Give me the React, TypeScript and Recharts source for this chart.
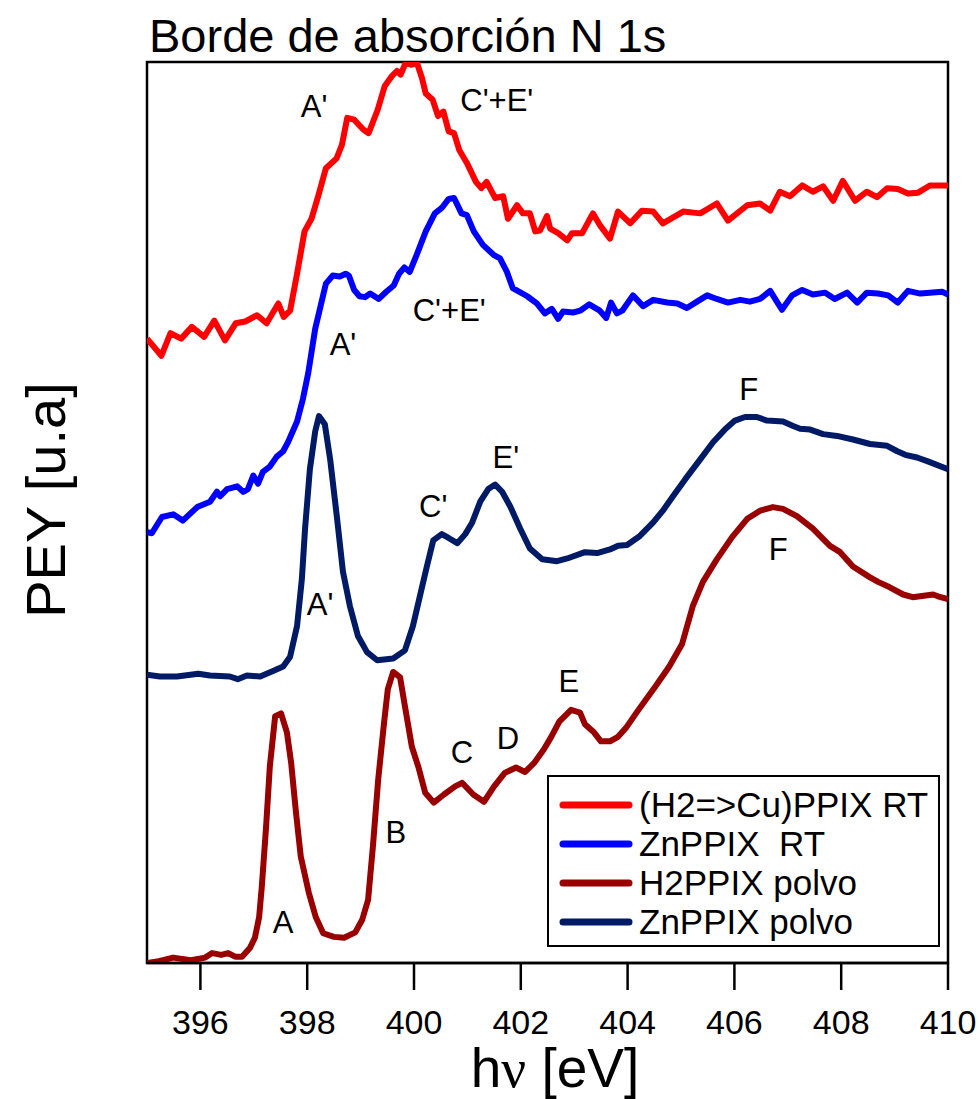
import { LineChart, Line, XAxis, YAxis, ReferenceArea, ReferenceDot } from 'recharts';

const FONT = '"Liberation Sans", Arial, Helvetica, sans-serif';

// photon energy ticks [eV]
const energyTicks = [396, 398, 400, 402, 404, 406, 408, 410];

// (H2=>Cu)PPIX RT
const cuRtEnergy = [
  395.0, 395.27, 395.44, 395.64, 395.84, 396.07, 396.26, 396.46, 396.66, 396.84, 397.06, 397.24,
  397.46, 397.56, 397.68, 397.81, 397.95, 398.08, 398.21, 398.35, 398.55, 398.65, 398.75, 398.88,
  399.05, 399.15, 399.32, 399.45, 399.58, 399.68, 399.75, 399.85, 399.95, 400.05, 400.15, 400.22,
  400.35, 400.45, 400.55, 400.65, 400.75, 400.85, 400.99, 401.16, 401.26, 401.36, 401.52, 401.67,
  401.76, 401.93, 402.04, 402.17, 402.27, 402.36, 402.49, 402.55, 402.7, 402.87, 402.96, 403.15,
  403.35, 403.48, 403.67, 403.82, 404.05, 404.27, 404.48, 404.66, 405.04, 405.36, 405.67, 405.88,
  406.24, 406.48, 406.67, 406.85, 407.04, 407.27, 407.47, 407.66, 407.85, 408.03, 408.26, 408.48,
  408.67, 408.86, 409.06, 409.25, 409.44, 409.66, 410.0,
];
const cuRtPey = [
  69.3, 67.4, 69.9, 69.3, 70.6, 69.5, 71.3, 69.1, 71.0, 71.2, 71.9, 71.0,
  73.2, 71.7, 72.4, 76.5, 81.2, 82.6, 85.2, 88.2, 89.3, 90.8, 93.8, 93.6,
  92.5, 92.1, 94.7, 97.3, 98.4, 99.0, 98.6, 100.0, 99.7, 100.0, 98.2, 96.5,
  95.8, 94.0, 94.5, 92.3, 92.1, 90.2, 88.8, 86.7, 86.0, 86.7, 84.9, 85.1,
  82.6, 84.1, 83.2, 83.2, 81.2, 81.3, 82.9, 81.5, 81.0, 80.2, 81.0, 81.0,
  83.2, 81.9, 80.4, 83.4, 82.1, 83.5, 83.4, 82.1, 83.4, 83.2, 84.3, 82.4,
  84.1, 84.3, 83.5, 85.6, 85.1, 86.3, 85.6, 86.2, 84.6, 86.8, 84.6, 85.6,
  85.0, 86.0, 85.9, 85.4, 85.5, 86.3, 86.3,
];

// ZnPPIX RT
const znRtEnergy = [
  395.0, 395.09, 395.28, 395.49, 395.67, 395.94, 396.18, 396.31, 396.37, 396.5, 396.69, 396.8,
  396.89, 396.99, 397.08, 397.17, 397.3, 397.43, 397.55, 397.64, 397.81, 397.92, 398.02, 398.15,
  398.35, 398.48, 398.61, 398.72, 398.78, 398.88, 398.98, 399.08, 399.18, 399.34, 399.48, 399.62,
  399.72, 399.82, 399.92, 400.05, 400.22, 400.39, 400.52, 400.65, 400.75, 400.89, 400.99, 401.12,
  401.29, 401.49, 401.61, 401.74, 401.85, 402.12, 402.3, 402.45, 402.58, 402.7, 402.79, 402.98,
  403.11, 403.28, 403.48, 403.6, 403.69, 403.8, 403.9, 404.1, 404.29, 404.48, 404.74, 404.93,
  405.11, 405.3, 405.49, 405.67, 405.88, 406.11, 406.29, 406.48, 406.67, 406.89, 407.08, 407.27,
  407.47, 407.7, 407.88, 408.11, 408.3, 408.48, 408.69, 408.88, 409.06, 409.25, 409.48, 409.66,
  409.89, 410.0,
];
const znRtPey = [
  47.8, 47.7, 49.5, 49.8, 49.1, 50.6, 51.2, 52.3, 51.8, 52.6, 52.9, 52.3,
  52.6, 54.1, 53.2, 54.5, 55.1, 56.2, 56.8, 57.8, 60.1, 62.6, 65.5, 70.4,
  75.4, 76.3, 76.2, 76.5, 76.3, 74.7, 74.0, 73.9, 74.3, 73.7, 74.5, 75.2,
  76.5, 77.2, 76.7, 78.6, 81.2, 83.2, 83.8, 84.8, 84.9, 83.2, 83.0, 81.2,
  79.7, 78.6, 78.2, 76.7, 74.9, 74.0, 73.2, 72.1, 72.6, 71.5, 72.3, 72.2,
  72.4, 73.1, 72.4, 71.6, 73.3, 72.1, 72.4, 74.1, 72.9, 73.6, 73.3, 73.2,
  72.7, 73.4, 74.1, 73.7, 73.3, 73.6, 73.4, 73.7, 74.6, 72.5, 74.1, 74.7,
  74.2, 74.4, 73.7, 74.4, 73.3, 74.4, 74.3, 74.1, 73.3, 74.6, 74.3, 74.4,
  74.5, 74.2,
];

// H2PPIX polvo
const h2PowderEnergy = [
  395.0, 395.22, 395.49, 395.82, 396.09, 396.22, 396.39, 396.52, 396.65, 396.78, 396.93, 397.02,
  397.1, 397.15, 397.23, 397.3, 397.4, 397.51, 397.62, 397.7, 397.79, 397.88, 398.03, 398.16,
  398.3, 398.5, 398.69, 398.9, 399.03, 399.14, 399.23, 399.33, 399.44, 399.51, 399.61, 399.74,
  399.83, 399.96, 400.08, 400.21, 400.37, 400.56, 400.77, 400.9, 401.11, 401.31, 401.5, 401.7,
  401.91, 402.08, 402.25, 402.43, 402.57, 402.72, 402.94, 403.11, 403.2, 403.37, 403.5, 403.67,
  403.82, 403.97, 404.18, 404.51, 404.78, 405.02, 405.22, 405.41, 405.67, 405.96, 406.24, 406.48,
  406.72, 406.91, 407.17, 407.47, 407.79, 407.98, 408.22, 408.54, 408.69, 408.91, 409.16, 409.34,
  409.72, 409.81, 410.0,
];
const h2PowderPey = [
  0.0, 0.2, 0.6, 0.3, 0.6, 1.1, 0.9, 1.1, 0.7, 0.7, 1.7, 2.8,
  5.1, 8.5, 15.1, 21.8, 27.4, 27.7, 25.6, 22.2, 16.7, 11.8, 7.8, 5.1,
  3.3, 2.9, 2.8, 3.4, 4.8, 7.0, 12.9, 20.4, 26.7, 30.4, 32.3, 31.7,
  28.5, 24.0, 21.8, 18.9, 17.8, 18.7, 19.6, 20.0, 18.7, 17.9, 19.6, 21.1,
  21.7, 21.2, 22.2, 23.7, 25.1, 26.8, 28.1, 27.8, 26.5, 25.6, 24.6, 24.6,
  25.1, 26.1, 27.9, 30.6, 32.9, 35.4, 39.6, 42.3, 44.8, 47.3, 49.3, 50.2,
  50.6, 50.4, 49.6, 48.2, 46.3, 45.6, 44.0, 42.8, 42.3, 41.7, 40.9, 40.6,
  40.9, 40.7, 40.4,
];

// ZnPPIX polvo
const znPowderEnergy = [
  395.0, 395.24, 395.56, 395.96, 396.18, 396.55, 396.7, 396.87, 397.12, 397.36, 397.55, 397.68,
  397.81, 397.9, 397.96, 398.05, 398.15, 398.22, 398.33, 398.43, 398.56, 398.67, 398.8, 398.95,
  399.12, 399.31, 399.61, 399.83, 399.98, 400.11, 400.24, 400.36, 400.52, 400.64, 400.81, 400.96,
  401.09, 401.24, 401.39, 401.52, 401.65, 401.8, 401.99, 402.17, 402.4, 402.68, 402.87, 403.2,
  403.43, 403.67, 403.82, 403.99, 404.23, 404.48, 404.66, 404.85, 405.08, 405.36, 405.6, 405.82,
  406.01, 406.2, 406.42, 406.61, 406.91, 407.1, 407.23, 407.42, 407.66, 407.92, 408.22, 408.54,
  408.86, 409.05, 409.2, 409.42, 409.61, 410.0,
];
const znPowderPey = [
  32.0, 31.8, 31.8, 32.1, 31.9, 31.8, 31.5, 31.9, 31.8, 32.4, 32.9, 34.0,
  37.4, 42.6, 48.2, 54.8, 59.0, 60.7, 59.8, 55.9, 49.3, 43.4, 39.6, 36.3,
  34.5, 33.6, 33.8, 34.7, 37.4, 40.7, 44.0, 46.9, 47.6, 47.2, 46.6, 47.6,
  48.9, 51.2, 52.6, 53.1, 52.3, 50.7, 48.2, 46.0, 44.8, 44.6, 44.9, 45.6,
  45.5, 45.9, 46.3, 46.4, 47.4, 48.9, 50.2, 51.8, 53.7, 55.9, 57.8, 59.2,
  60.2, 60.6, 60.6, 60.2, 60.1, 59.6, 59.3, 59.2, 58.7, 58.5, 58.1, 57.6,
  57.4, 56.8, 56.4, 56.1, 55.7, 54.8,
];

// peak labels
const peakNames = ["A'", "C'+E'", "C'+E'", "A'", "A'", "C'", "E'", 'F', 'F', 'A', 'B', 'C', 'D', 'E'];
const peakEnergy = [398.13, 401.55, 400.66, 398.67, 398.24, 400.36, 401.72, 406.27, 406.82, 397.55, 399.66, 400.9, 401.76, 402.9];
const peakPey = [95.1, 95.8, 72.5, 68.7, 39.8, 50.7, 56.2, 63.7, 45.9, 4.6, 14.5, 23.4, 25.0, 31.3];

const zip = (energy: number[], pey: number[]) => energy.map((ev, i) => ({ ev, pey: pey[i] }));

const series = [
  { name: '(H2=>Cu)PPIX RT', color: '#ff0000', data: zip(cuRtEnergy, cuRtPey) },
  { name: 'ZnPPIX  RT', color: '#0000ff', data: zip(znRtEnergy, znRtPey) },
  { name: 'H2PPIX polvo', color: '#990000', data: zip(h2PowderEnergy, h2PowderPey) },
  { name: 'ZnPPIX polvo', color: '#001a66', data: zip(znPowderEnergy, znPowderPey) },
];

function LegendBox() {
  return (
    <div
      style={{
        position: 'absolute',
        left: 547,
        top: 775,
        width: 393,
        height: 172,
        boxSizing: 'border-box',
        border: '2.5px solid #000',
        background: '#fff',
        paddingTop: 8,
      }}
    >
      {series.map((s) => (
        <div key={s.name} style={{ display: 'flex', alignItems: 'center', height: 39 }}>
          <svg width={84} height={12} style={{ flex: 'none' }}>
            <line x1={14} y1={6} x2={80} y2={6} stroke={s.color} strokeWidth={7} strokeLinecap="round" />
          </svg>
          <span style={{ fontSize: 35, lineHeight: '39px', marginLeft: 6, whiteSpace: 'pre' }}>{s.name}</span>
        </div>
      ))}
    </div>
  );
}

export default function App() {
  return (
    <div
      style={{
        position: 'absolute',
        left: 0,
        top: 0,
        width: 980,
        height: 1099,
        background: '#fff',
        fontFamily: FONT,
        color: '#000',
      }}
    >
      <div style={{ position: 'absolute', left: 149, top: 12, fontSize: 47, lineHeight: '47px', whiteSpace: 'nowrap' }}>
        Borde de absorción N 1s
      </div>
      <div
        style={{
          position: 'absolute',
          left: 46,
          top: 500,
          fontSize: 56,
          lineHeight: '56px',
          whiteSpace: 'nowrap',
          transform: 'translate(-50%, -50%) rotate(-90deg)',
        }}
      >
        PEY [u.a]
      </div>
      <div
        style={{
          position: 'absolute',
          left: 555,
          top: 1041,
          fontSize: 55,
          lineHeight: '55px',
          whiteSpace: 'nowrap',
          transform: 'translateX(-50%)',
        }}
      >
        h<span style={{ fontFamily: '"Liberation Serif", "Times New Roman", serif' }}>ν</span> [eV]
      </div>

      <LineChart
        width={980}
        height={1099}
        margin={{ top: 62, right: 32, bottom: 76, left: 147 }}
        style={{ position: 'absolute', left: 0, top: 0 }}
      >
        <ReferenceArea
          x1={395}
          x2={410}
          y1={0}
          y2={100}
          fill="none"
          stroke="#000"
          strokeWidth={2.5}
          ifOverflow="visible"
        />
        <XAxis
          dataKey="ev"
          type="number"
          domain={[395, 410]}
          ticks={energyTicks}
          allowDataOverflow
          height={60}
          tickSize={27}
          tickMargin={20}
          axisLine={{ stroke: '#000', strokeWidth: 2.5 }}
          tickLine={{ stroke: '#000', strokeWidth: 2.5 }}
          tick={{ fill: '#000', fontSize: 34, fontFamily: FONT }}
        />
        <YAxis type="number" domain={[0, 100]} hide allowDataOverflow />
        {series.map((s) => (
          <Line
            key={s.name}
            data={s.data}
            dataKey="pey"
            name={s.name}
            type="linear"
            stroke={s.color}
            strokeWidth={6}
            strokeLinejoin="round"
            dot={false}
            activeDot={false}
            isAnimationActive={false}
          />
        ))}
        {peakNames.map((label, i) => (
          <ReferenceDot
            key={i}
            x={peakEnergy[i]}
            y={peakPey[i]}
            r={0}
            fill="none"
            stroke="none"
            ifOverflow="visible"
            label={{ value: label, position: 'center', fontSize: 31, fill: '#000', fontFamily: FONT }}
          />
        ))}
      </LineChart>

      <LegendBox />
    </div>
  );
}
